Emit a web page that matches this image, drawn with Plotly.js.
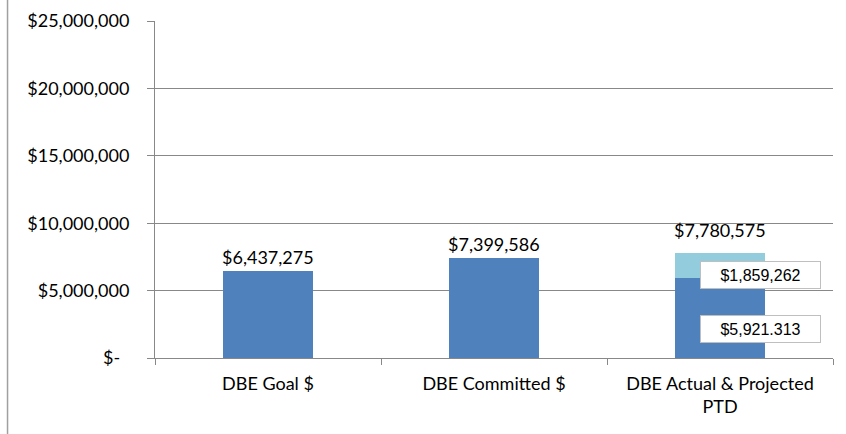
<!DOCTYPE html>
<html>
<head>
<meta charset="utf-8">
<script src="https://cdn.plot.ly/plotly-3.0.1.min.js"></script>
<style>html,body{margin:0;padding:0;background:#fff;}#chart{width:846px;height:434px;}</style>
</head>
<body>
<div id="chart"></div>
<script>
const categories = ['DBE Goal $', 'DBE Committed $', 'DBE Actual & Projected<br>PTD'];
const baseValues = [6437275, 7399586, 5921313];
const topValues = [null, null, 1859262];
const topLabels = ['$6,437,275', '$7,399,586', '$7,780,575'];
const segmentLabels = ['$5,921.313', '$1,859,262'];
const yTickVals = [0, 5000000, 10000000, 15000000, 20000000, 25000000];
const yTickText = ['$-\u00a0\u00a0', '$5,000,000', '$10,000,000', '$15,000,000', '$20,000,000', '$25,000,000'];

const FONT = 'Lato, "Open Sans", sans-serif';
const totals = baseValues.map((v, i) => v + (topValues[i] || 0));

const traces = [
  {type: 'bar', x: categories, y: baseValues, marker: {color: '#4F81BD'}, hoverinfo: 'none'},
  {type: 'bar', x: categories, y: topValues, marker: {color: '#93CDDD'}, hoverinfo: 'none'}
];

const annotations = categories.map((c, i) => ({
  x: c, y: totals[i], xref: 'x', yref: 'y', text: topLabels[i],
  showarrow: false, yanchor: 'bottom', yshift: i === 2 ? 10 : 1,
  font: {family: FONT, size: 18, color: '#000'}
}));
// boxed segment labels on the stacked bar
annotations.push({
  x: categories[2], y: baseValues[2] / 2, xref: 'x', yref: 'y', text: segmentLabels[0],
  showarrow: false, xshift: 40, yshift: -11, width: 117, height: 24,
  bgcolor: '#fff', bordercolor: '#BFBFBF', borderwidth: 1, borderpad: 1,
  font: {family: '"Liberation Sans", Arial, sans-serif', size: 16, color: '#000'}
});
annotations.push({
  x: categories[2], y: baseValues[2] + topValues[2] / 2, xref: 'x', yref: 'y', text: segmentLabels[1],
  showarrow: false, xshift: 40, yshift: -9, width: 117, height: 24,
  bgcolor: '#fff', bordercolor: '#BFBFBF', borderwidth: 1, borderpad: 1,
  font: {family: '"Liberation Sans", Arial, sans-serif', size: 16, color: '#000'}
});

const layout = {
  width: 846, height: 434,
  margin: {l: 155, r: 13, t: 21, b: 76, pad: 0},
  paper_bgcolor: '#fff', plot_bgcolor: '#fff',
  barmode: 'stack', bargap: 0.6,
  showlegend: false,
  font: {family: FONT, size: 18, color: '#000'},
  xaxis: {
    type: 'category', tickson: 'boundaries', ticks: 'outside', ticklen: 6, tickcolor: '#888',
    ticklabelstandoff: 9,
    showline: true, linecolor: '#888', linewidth: 1, showgrid: false,
    tickfont: {family: FONT, size: 18, color: '#000'}
  },
  yaxis: {
    range: [0, 25000000], tickvals: yTickVals, ticktext: yTickText,
    ticks: 'outside', ticklen: 7, tickcolor: '#888', ticklabelstandoff: 14,
    showline: true, linecolor: '#888', linewidth: 1,
    showgrid: true, gridcolor: '#888', gridwidth: 1, zeroline: false,
    tickfont: {family: FONT, size: 18, color: '#000'}
  },
  annotations: annotations,
  shapes: [{
    type: 'line', xref: 'paper', yref: 'paper',
    x0: -0.2175, x1: -0.2175, y0: -0.24, y1: 1.08,
    line: {color: '#A0A0A0', width: 1.5}
  }]
};

Plotly.newPlot('chart', traces, layout, {staticPlot: true, displayModeBar: false});
</script>
</body>
</html>
